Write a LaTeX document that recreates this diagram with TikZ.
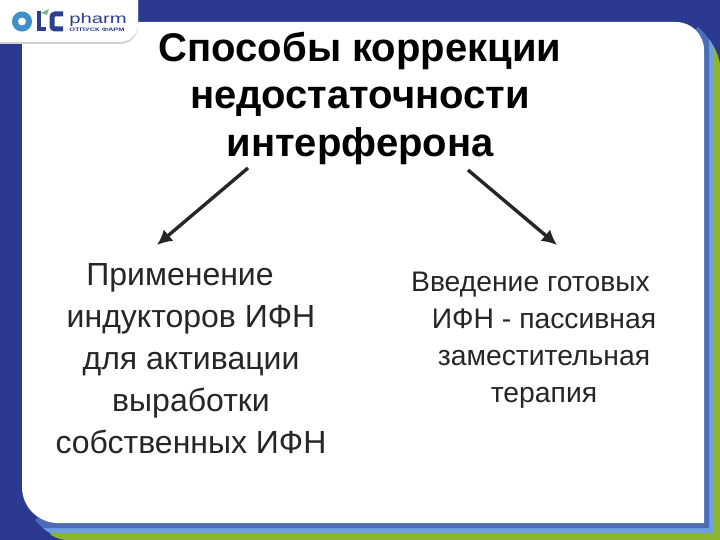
\documentclass[tikz,border=0pt]{standalone}
\usepackage{fontspec}
\setmainfont{Liberation Sans}
\usepackage{tikz}
\usetikzlibrary{arrows.meta}
\definecolor{navy500}{HTML}{2B3990}
\definecolor{blue500}{HTML}{4A6DB5}
\definecolor{blue300}{HTML}{6FA0E0}
\definecolor{green500}{HTML}{8DB52F}
\definecolor{gray800}{HTML}{262626}
\definecolor{logoblue}{HTML}{3F8FCB}
\definecolor{logonavy}{HTML}{2B3F8F}
\definecolor{logogreen}{HTML}{7DB88A}
\tikzstyle{heading}=[align=center, font=\fontsize{40}{47.5}\selectfont\bfseries, text=black]
\tikzstyle{leftitem}=[align=center, font=\fontsize{32}{42}\selectfont, text=gray800]
\tikzstyle{rightitem}=[align=center, font=\fontsize{28.3}{37}\selectfont, text=gray800]
\tikzstyle{branch}=[draw=gray800, line width=3.4pt, -{Latex[length=15pt,width=15pt]}]

\begin{document}
\begin{tikzpicture}[x=1pt, y=-1pt]
	\useasboundingbox (0,0) rectangle (720,540);
	\fill[navy500] (0,0) rectangle (720,540);
	% bands
	\fill[green500] (50,534) .. controls (54,537) and (58,539) .. (66,540) -- (720,540) -- (720,64) .. controls (718,54) and (715,48) .. (711,42) -- cycle;
	\fill[blue300] (43,528) .. controls (45,530) and (48,532) .. (50,533) -- (713,533) -- (713,46) .. controls (712,43) and (710,40) .. (708,38) -- cycle;
	\fill[blue500] (35,520) .. controls (38,523) and (41,526) .. (43,528) -- (709,528) -- (709,40) .. controls (707,36) and (703,31) .. (698,27) -- cycle;
	\fill[white] (22,22) [rounded corners=28pt] -- (704,22) [sharp corners] -- (704,523) [rounded corners=36pt] -- (22,523) [sharp corners] -- cycle;
	% logo
	\fill[gray!35] (0,0) -- (138,0) [rounded corners=18pt] -- (138,44) [sharp corners] -- (0,44) -- cycle;
	\fill[white] (0,0) -- (138,0) [rounded corners=18pt] -- (138,42) [sharp corners] -- (0,42) -- cycle;
	\draw[logoblue, line width=6pt] (22,21.5) circle (7);
	\draw[logonavy, line width=4.5pt] (39,11) -- (39,29) -- (46,29);
	\fill[logogreen] (41,13) -- (49,9) -- (47,15) -- cycle;
	\draw[logonavy, line width=5pt, rounded corners=3pt] (63,14) -- (52,14) -- (52,29) -- (63,29);
	\node[text=logonavy, font=\fontsize{14}{14}\selectfont, anchor=west, inner sep=0pt, xscale=1.45, transform shape] (logotext) at (69,20) {pharm};
	\node[text=logonavy, font=\fontsize{5}{5}\selectfont\bfseries, anchor=west, inner sep=0pt, xscale=1.5, transform shape] (logosub) at (69,30) {ОТПУСК ФАРМ};
	% texts
	\node[heading] (title) at (360,98) {Способы коррекции\\недостаточности\\интерферона};
	\node[leftitem] (inductors) at (191,359) {Применение\hspace*{22pt}\\индукторов ИФН\\для активации\\выработки\\собственных ИФН};
	\node[rightitem] (therapy) at (544,340.5) {Введение готовых\hspace*{27pt}\\ИФН - пассивная\\заместительная\\терапия};
	\coordinate (leftstart) at (248,168);
	\coordinate (leftend) at (157,245);
	\coordinate (rightstart) at (468,170);
	\coordinate (rightend) at (557,245);
	\path[branch] (leftstart) -- (leftend);
	\path[branch] (rightstart) -- (rightend);
\end{tikzpicture}
\end{document}
